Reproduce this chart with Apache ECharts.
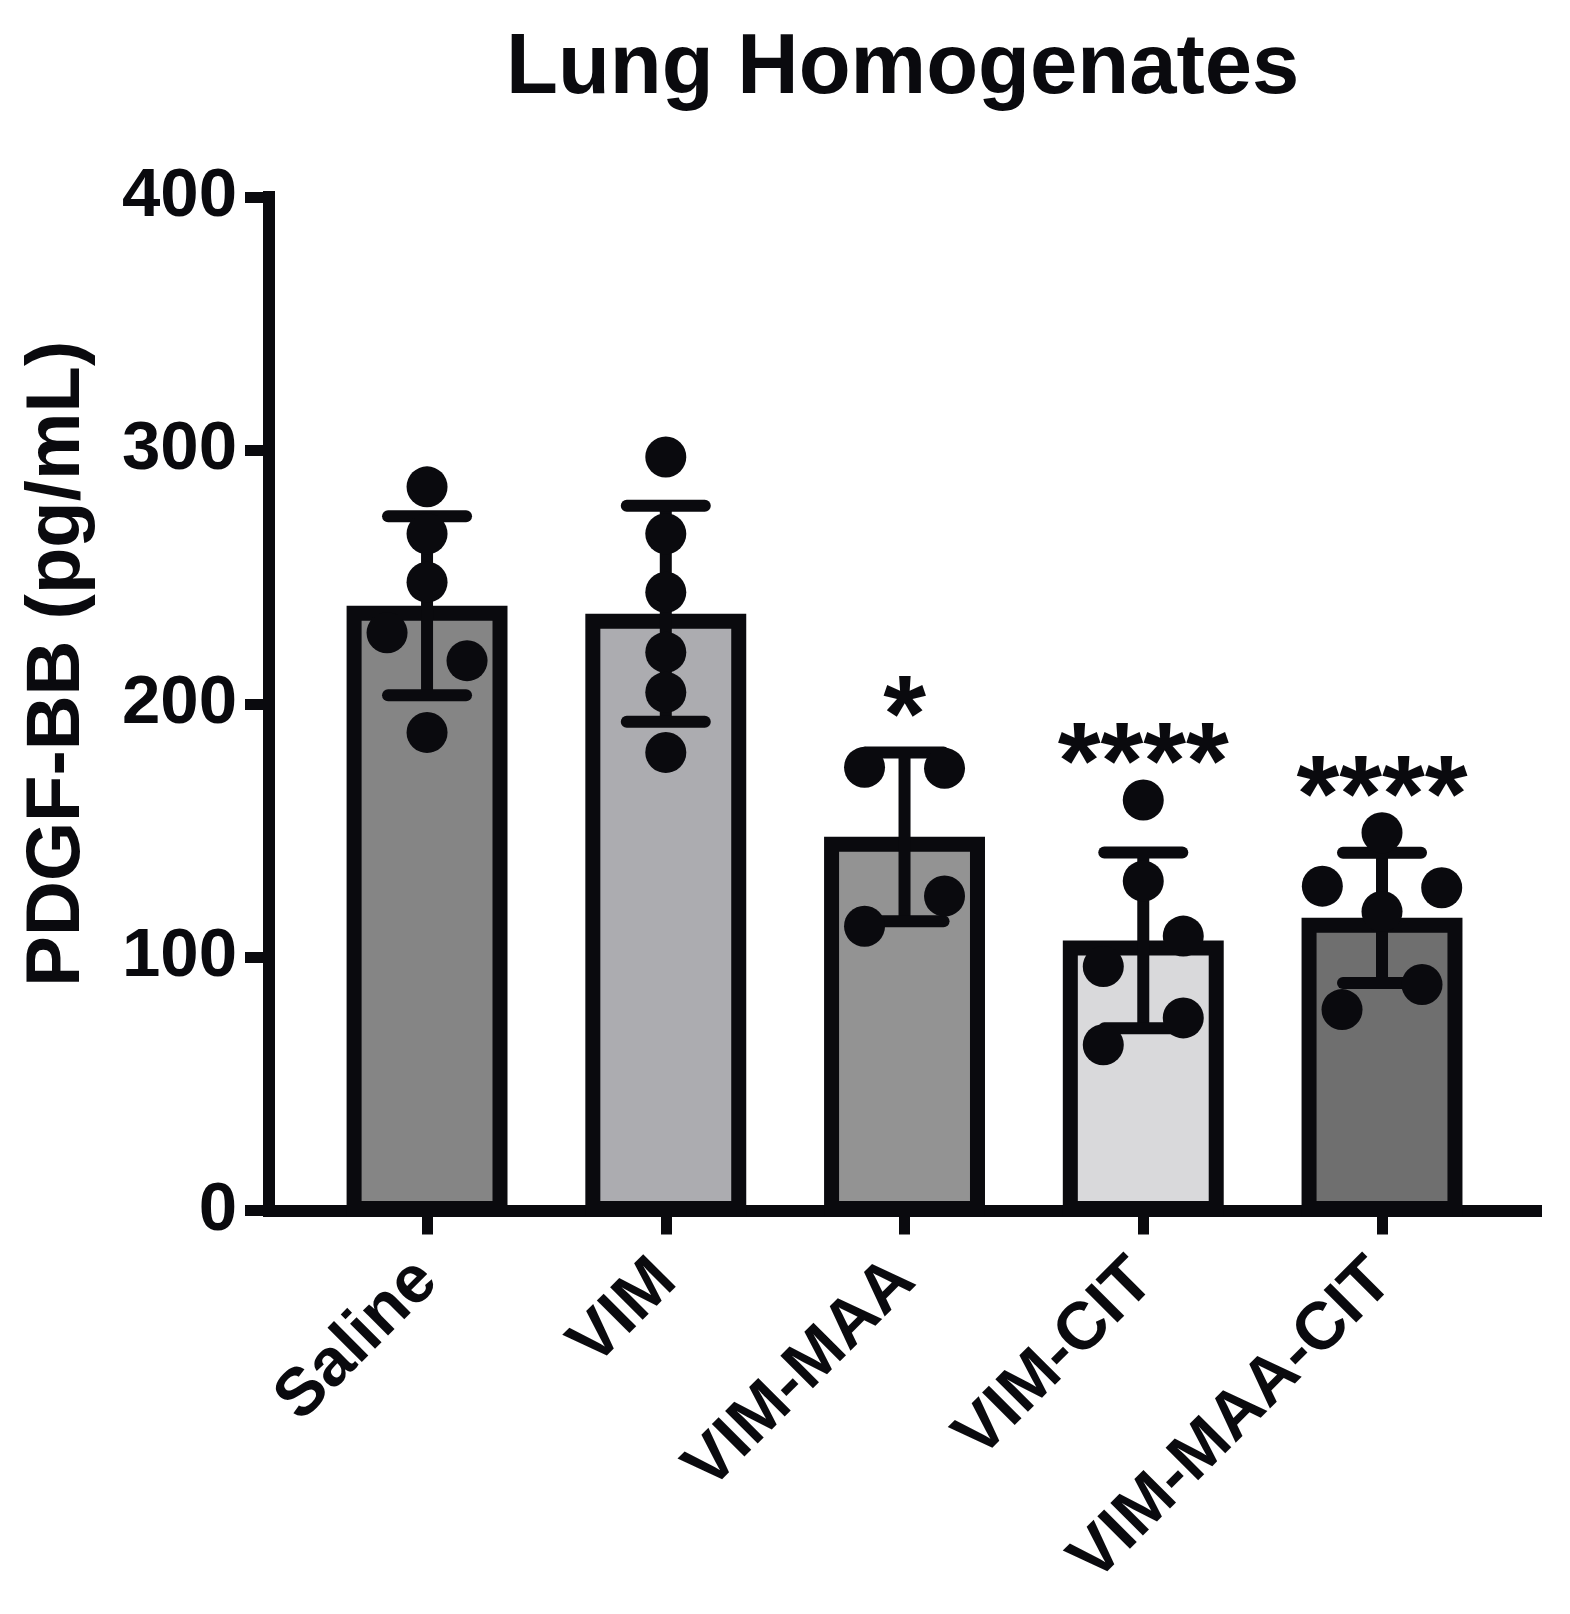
<!DOCTYPE html>
<html><head><meta charset="utf-8">
<script src="https://cdn.jsdelivr.net/npm/echarts@6/dist/echarts.min.js"></script>
<style>html,body{margin:0;padding:0;background:#fff}#c{width:1570px;height:1614px}</style>
</head><body><div id="c"></div>
<script>
// ---- data ----
const categories = ['Saline', 'VIM', 'VIM-MAA', 'VIM-CIT', 'VIM-MAA-CIT'];
const yTicks = [0, 100, 200, 300, 400];
const means = [238.7, 235.5, 147.5, 106.6, 115.5];
const sds = [35.3, 42.6, 33.3, 34.7, 25.7];
const salinePoints = [285.6, 267.1, 248.0, 228.0, 217.0, 188.7];
const vimPoints = [297.4, 267.1, 244.0, 220.3, 204.5, 180.8];
const vimMaaPoints = [174.9, 174.5, 112.2, 124.1];
const vimCitPoints = [162.0, 130.0, 96.3, 108.3, 65.4, 76.0];
const vimMaaCitPoints = [149.1, 128.0, 118.0, 127.4, 79.3, 89.2];
const significance = ['', '', '*', '****', '****'];

// ---- styling ----
const INK = '#0a0a0e';
const barColors = ['#858585', '#acacb0', '#939393', '#d9d9db', '#6f6f6f'];
const FONT = 'Liberation Sans';
const groups = [salinePoints, vimPoints, vimMaaPoints, vimCitPoints, vimMaaCitPoints];

// simple symmetric beeswarm: points closer than `gap` (value units) share a row
function swarm(values, gap) {
  const idx = values.map((v, i) => i).sort((a, b) => values[b] - values[a]);
  const rows = [];
  let cur = [idx[0]];
  for (let k = 1; k < idx.length; k++) {
    if (values[idx[k - 1]] - values[idx[k]] < gap) cur.push(idx[k]);
    else { rows.push(cur); cur = [idx[k]]; }
  }
  rows.push(cur);
  const off = new Array(values.length).fill(0);
  rows.forEach(r => {
    if (r.length < 2) return;
    r.sort((a, b) => a - b);
    const span = Math.min(0.335 * (r.length - 1), 0.5);
    r.forEach((j, k) => { off[j] = -span / 2 + span * k / (r.length - 1); });
  });
  return off;
}

const pointData = [];
groups.forEach((vals, i) => {
  const off = swarm(vals, 14);
  vals.forEach((v, j) => pointData.push([i + off[j], v]));
});

const chart = echarts.init(document.getElementById('c'), null, {renderer: 'canvas'});
chart.setOption({
  animation: false,
  backgroundColor: '#fff',
  title: {
    text: 'Lung Homogenates', left: 506, top: 27, padding: 0,
    textStyle: {fontSize: 85, fontWeight: 'bold', fontFamily: FONT, color: INK}
  },
  grid: {left: 269, right: 34, top: 197, bottom: 403.5, containLabel: false, outerBoundsMode: 'none'},
  xAxis: {
    type: 'value', min: -0.662, max: 4.645,
    splitLine: {show: false},
    axisLine: {show: true, onZero: true, lineStyle: {color: INK, width: 12, cap: 'square'}},
    axisTick: {show: true, customValues: [0, 1, 2, 3, 4], length: 24, lineStyle: {color: INK, width: 11}},
    axisLabel: {
      customValues: [0, 1, 2, 3, 4],
      formatter: v => categories[Math.round(v)],
      rotate: 45, margin: 60, fontSize: 67, fontWeight: 'bold', fontFamily: FONT, color: INK
    }
  },
  yAxis: {
    type: 'value', min: yTicks[0], max: yTicks[yTicks.length - 1], interval: 100,
    splitLine: {show: false},
    axisLine: {show: true, onZero: false, lineStyle: {color: INK, width: 12, cap: 'square'}},
    axisTick: {show: true, length: 24, lineStyle: {color: INK, width: 11}},
    axisLabel: {margin: 32, fontSize: 69, fontWeight: 'bold', fontFamily: FONT, color: INK},
    name: 'PDGF-BB (pg/mL)', nameLocation: 'middle', nameRotate: 90, nameGap: 173,
    nameTextStyle: {fontSize: 76, fontWeight: 'bold', fontFamily: FONT, color: INK, padding: [0, 0, 0, 80]}
  },
  series: [
    {
      type: 'custom', z: 2,
      data: means.map((m, i) => [i, m]),
      renderItem: (params, api) => {
        const i = api.value(0);
        const top = api.coord([i, api.value(1)]);
        const base = api.coord([i, 0]);
        const w = api.size([1, 0])[0] * 0.674;
        const bw = 15;
        return {
          type: 'rect',
          shape: {x: top[0] - w / 2 + bw / 2, y: top[1] + bw / 2, width: w - bw, height: base[1] - top[1] - bw / 2 - 2},
          style: {fill: barColors[i], stroke: INK, lineWidth: bw}
        };
      }
    },
    {
      type: 'custom', z: 3,
      data: means.map((m, i) => [i, m, sds[i]]),
      renderItem: (params, api) => {
        const i = api.value(0), m = api.value(1), s = api.value(2);
        const hi = api.coord([i, m + s]);
        const lo = api.coord([i, m - s]);
        const half = 39;
        const st = {stroke: INK, lineWidth: 12};
        return {
          type: 'group', children: [
            {type: 'line', shape: {x1: hi[0], y1: hi[1], x2: lo[0], y2: lo[1]}, style: st},
            {type: 'line', shape: {x1: hi[0] - half, y1: hi[1], x2: hi[0] + half, y2: hi[1]}, style: Object.assign({lineCap: 'round'}, st)},
            {type: 'line', shape: {x1: lo[0] - half, y1: lo[1], x2: lo[0] + half, y2: lo[1]}, style: Object.assign({lineCap: 'round'}, st)}
          ]
        };
      }
    },
    {
      type: 'scatter', z: 4,
      symbol: 'circle', symbolSize: 41,
      itemStyle: {color: INK, opacity: 1},
      data: pointData
    },
    {
      type: 'custom', z: 5,
      data: categories.map((c, i) => [i, Math.max(means[i] + sds[i], ...groups[i])]),
      renderItem: (params, api) => {
        const i = api.value(0);
        const p = api.coord([i, api.value(1)]);
        return {
          type: 'text', x: p[0], y: p[1] - 32,
          style: {text: significance[i], fontSize: 110, fontWeight: 'bold', fontFamily: FONT, align: 'center', verticalAlign: 'middle', fill: INK}
        };
      }
    }
  ]
});
</script></body></html>
